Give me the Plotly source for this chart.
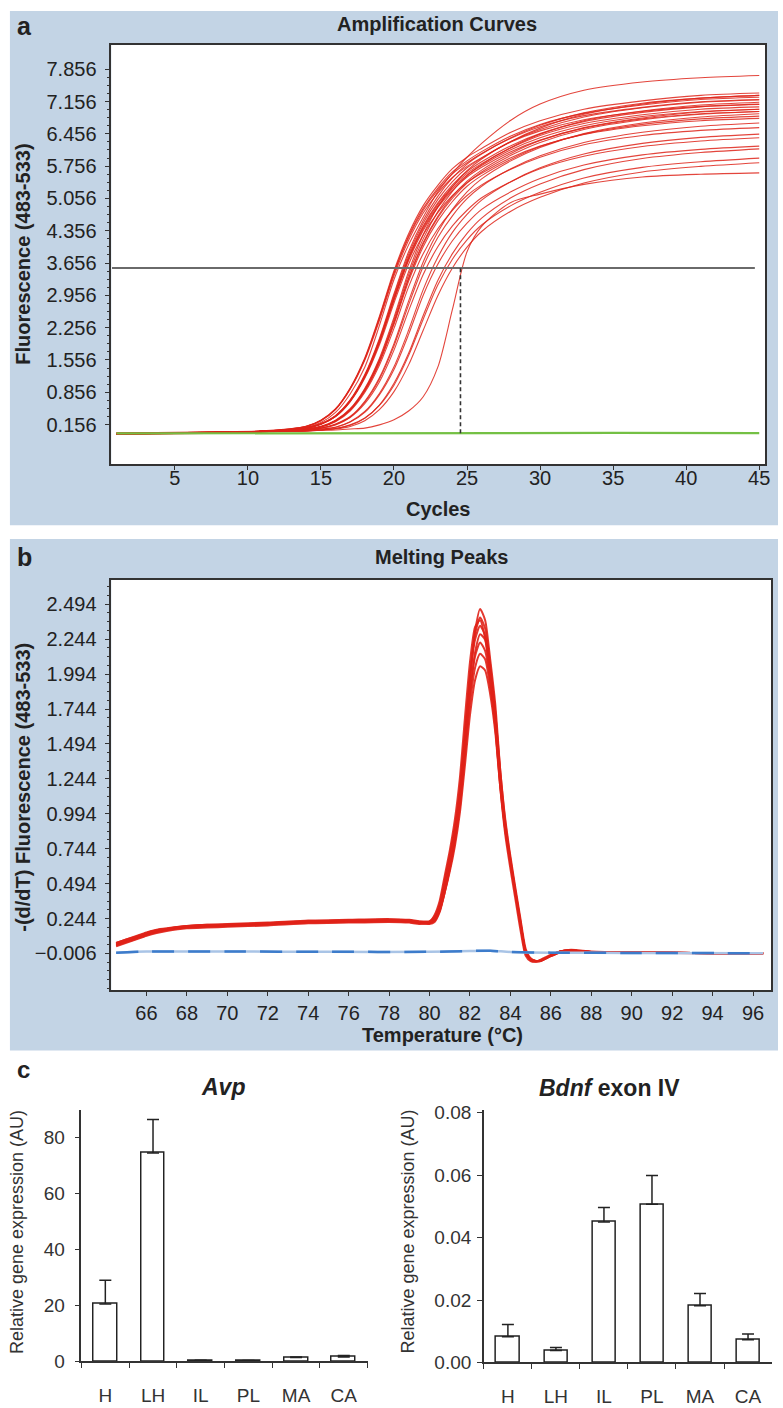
import plotly.graph_objects as go

# ---------------- data: panel a (amplification curves) ----------------
amp_cycles = [1, 11, 14, 15, 16, 17, 18, 19, 20, 21, 22, 23, 24, 25, 26, 28, 30, 33, 37, 41, 45]
amp_curves = [
    [-0.04, 0.01, 0.10, 0.20, 0.42, 0.82, 1.40, 2.30, 3.30, 4.05, 4.65, 5.20, 5.60, 5.95, 6.25, 6.75, 7.10, 7.40, 7.58, 7.67, 7.72],
    [-0.04, 0.01, 0.12, 0.25, 0.50, 0.95, 1.60, 2.50, 3.49, 4.29, 4.90, 5.34, 5.70, 5.95, 6.14, 6.49, 6.74, 6.99, 7.17, 7.29, 7.34],
    [-0.05, 0.01, 0.09, 0.18, 0.35, 0.69, 1.24, 2.02, 2.99, 3.90, 4.58, 5.10, 5.50, 5.80, 6.02, 6.37, 6.64, 6.91, 7.12, 7.23, 7.29],
    [-0.03, 0.02, 0.12, 0.25, 0.49, 0.94, 1.58, 2.47, 3.45, 4.24, 4.84, 5.28, 5.63, 5.87, 6.07, 6.41, 6.66, 6.90, 7.08, 7.20, 7.25],
    [-0.04, 0.01, 0.09, 0.17, 0.35, 0.68, 1.22, 1.99, 2.95, 3.84, 4.52, 5.03, 5.42, 5.72, 5.93, 6.29, 6.55, 6.82, 7.02, 7.14, 7.19],
    [-0.04, 0.00, 0.06, 0.11, 0.24, 0.49, 0.92, 1.56, 2.43, 3.40, 4.18, 4.77, 5.21, 5.55, 5.79, 6.16, 6.45, 6.74, 6.95, 7.08, 7.14],
    [-0.05, 0.01, 0.11, 0.24, 0.48, 0.92, 1.55, 2.41, 3.38, 4.15, 4.74, 5.17, 5.51, 5.75, 5.94, 6.28, 6.52, 6.76, 6.94, 7.05, 7.10],
    [-0.04, 0.01, 0.08, 0.17, 0.34, 0.67, 1.20, 1.95, 2.89, 3.76, 4.43, 4.93, 5.31, 5.60, 5.81, 6.15, 6.42, 6.68, 6.87, 6.99, 7.04],
    [-0.03, 0.01, 0.06, 0.11, 0.24, 0.48, 0.90, 1.53, 2.38, 3.33, 4.10, 4.67, 5.10, 5.43, 5.67, 6.03, 6.31, 6.59, 6.80, 6.93, 6.99],
    [-0.04, 0.00, 0.08, 0.17, 0.33, 0.66, 1.18, 1.93, 2.85, 3.71, 4.36, 4.86, 5.23, 5.52, 5.73, 6.07, 6.32, 6.58, 6.78, 6.89, 6.94],
    [-0.04, 0.01, 0.05, 0.08, 0.17, 0.33, 0.66, 1.17, 1.91, 2.83, 3.68, 4.33, 4.82, 5.20, 5.48, 5.87, 6.16, 6.46, 6.69, 6.82, 6.89],
    [-0.05, 0.00, 0.06, 0.11, 0.23, 0.47, 0.88, 1.49, 2.33, 3.26, 4.01, 4.57, 4.99, 5.32, 5.55, 5.90, 6.18, 6.45, 6.66, 6.78, 6.84],
    [-0.04, 0.01, 0.08, 0.16, 0.33, 0.65, 1.16, 1.88, 2.79, 3.63, 4.27, 4.75, 5.12, 5.40, 5.60, 5.94, 6.19, 6.44, 6.63, 6.74, 6.79],
    [-0.04, 0.01, 0.05, 0.08, 0.16, 0.32, 0.64, 1.14, 1.86, 2.75, 3.58, 4.21, 4.68, 5.05, 5.32, 5.70, 5.98, 6.27, 6.49, 6.62, 6.69],
    [-0.04, 0.00, 0.06, 0.11, 0.22, 0.45, 0.85, 1.44, 2.24, 3.14, 3.86, 4.40, 4.80, 5.12, 5.35, 5.69, 5.95, 6.22, 6.42, 6.53, 6.59],
    [-0.04, 0.01, 0.03, 0.06, 0.10, 0.22, 0.44, 0.83, 1.41, 2.20, 3.08, 3.78, 4.32, 4.71, 5.02, 5.42, 5.72, 6.02, 6.25, 6.38, 6.45],
    [-0.03, 0.01, 0.04, 0.08, 0.15, 0.31, 0.61, 1.08, 1.77, 2.62, 3.41, 4.01, 4.46, 4.80, 5.07, 5.42, 5.70, 5.97, 6.18, 6.30, 6.37],
    [-0.04, 0.00, 0.03, 0.06, 0.10, 0.21, 0.42, 0.80, 1.35, 2.11, 2.96, 3.63, 4.14, 4.52, 4.82, 5.20, 5.49, 5.78, 6.00, 6.12, 6.19],
    [-0.04, 0.01, 0.02, 0.04, 0.07, 0.15, 0.30, 0.58, 1.05, 1.70, 2.52, 3.28, 3.86, 4.30, 4.63, 5.07, 5.37, 5.68, 5.92, 6.05, 6.13],
    [-0.04, 0.00, 0.02, 0.04, 0.07, 0.14, 0.29, 0.57, 1.01, 1.65, 2.44, 3.18, 3.74, 4.16, 4.48, 4.90, 5.19, 5.50, 5.73, 5.85, 5.93],
    [-0.04, 0.01, 0.02, 0.035, 0.06, 0.115, 0.24, 0.48, 0.87, 1.45, 2.20, 2.95, 3.55, 4.00, 4.34, 4.78, 5.08, 5.39, 5.63, 5.75, 5.83],
    [-0.04, 0.01, 0.02, 0.03, 0.04, 0.06, 0.08, 0.15, 0.26, 0.45, 0.76, 1.40, 2.65, 3.90, 4.45, 4.97, 5.15, 5.36, 5.52, 5.58, 5.61],
    [-0.04, 0.01, 0.12, 0.24, 0.49, 0.93, 1.57, 2.45, 3.43, 4.21, 4.80, 5.24, 5.59, 5.83, 6.03, 6.36, 6.61, 6.85, 7.03, 7.15, 7.20],
    [-0.05, 0.00, 0.09, 0.17, 0.34, 0.67, 1.21, 1.97, 2.91, 3.79, 4.46, 4.96, 5.35, 5.64, 5.85, 6.20, 6.46, 6.72, 6.92, 7.04, 7.09],
    [-0.04, 0.01, 0.08, 0.17, 0.34, 0.67, 1.19, 1.94, 2.87, 3.74, 4.40, 4.89, 5.27, 5.56, 5.77, 6.11, 6.37, 6.63, 6.83, 6.94, 6.99],
    [-0.04, 0.01, 0.07, 0.12, 0.25, 0.50, 0.94, 1.59, 2.48, 3.47, 4.27, 4.87, 5.31, 5.66, 5.91, 6.29, 6.58, 6.88, 7.10, 7.23, 7.29],
    [-0.03, 0.00, 0.06, 0.11, 0.24, 0.47, 0.90, 1.52, 2.36, 3.31, 4.07, 4.64, 5.06, 5.39, 5.63, 5.99, 6.27, 6.55, 6.76, 6.88, 6.94],
]
neg_cycles = [1, 10, 20, 30, 35, 45]
neg_values = [-0.035, -0.03, -0.03, -0.03, -0.025, -0.03]
threshold_value = 3.55
threshold_span = [0.7, 44.7]
ct_marker = 24.55
amp_ytick_text = ["0.156", "0.856", "1.556", "2.256", "2.956", "3.656", "4.356", "5.056", "5.756", "6.456", "7.156", "7.856"]
amp_xticks = [5, 10, 15, 20, 25, 30, 35, 40, 45]

# ---------------- data: panel b (melting peaks) ----------------
melt_temps = [64.5, 65, 65.5, 66, 66.5, 67, 68, 69, 70, 72, 74, 76, 78, 79, 79.5, 80, 80.25, 80.5, 80.75, 81,
              81.25, 81.5, 81.75, 82, 82.25, 82.5, 82.75, 83, 83.25, 83.5, 83.75, 84, 84.25, 84.5, 84.75, 85,
              85.25, 85.5, 86, 86.5, 87, 88, 90, 92, 94, 96.5]
melt_curves = [
    [0.05, 0.075, 0.10, 0.125, 0.145, 0.16, 0.18, 0.185, 0.19, 0.2, 0.215, 0.22, 0.225, 0.22, 0.21, 0.21, 0.23, 0.31, 0.46, 0.62,
     0.82, 1.08, 1.5, 1.95, 2.3, 2.46, 2.38, 2.1, 1.78, 1.3, 0.93, 0.67, 0.44, 0.22, 0.01, -0.05,
     -0.06, -0.055, -0.02, 0.01, 0.015, 0.005, 0.0, 0.0, -0.005, -0.005],
    [0.06, 0.085, 0.11, 0.135, 0.155, 0.17, 0.19, 0.195, 0.2, 0.21, 0.225, 0.23, 0.235, 0.23, 0.22, 0.22, 0.25, 0.33, 0.5, 0.68,
     0.88, 1.15, 1.56, 1.98, 2.28, 2.40, 2.32, 2.06, 1.72, 1.26, 0.9, 0.65, 0.42, 0.2, 0.0, -0.055,
     -0.065, -0.06, -0.025, 0.005, 0.015, 0.005, 0.0, -0.002, -0.005, -0.006],
    [0.07, 0.095, 0.12, 0.145, 0.165, 0.175, 0.19, 0.2, 0.205, 0.215, 0.23, 0.235, 0.24, 0.235, 0.225, 0.225, 0.26, 0.35, 0.52, 0.7,
     0.9, 1.18, 1.58, 1.98, 2.24, 2.34, 2.27, 2.02, 1.7, 1.25, 0.9, 0.66, 0.43, 0.21, 0.01, -0.05,
     -0.06, -0.055, -0.02, 0.01, 0.02, 0.008, 0.002, 0.0, -0.004, -0.005],
    [0.055, 0.08, 0.105, 0.13, 0.15, 0.165, 0.185, 0.19, 0.195, 0.205, 0.22, 0.225, 0.23, 0.225, 0.215, 0.205, 0.22, 0.29, 0.43, 0.6,
     0.8, 1.06, 1.45, 1.85, 2.15, 2.28, 2.24, 2.02, 1.72, 1.3, 0.95, 0.69, 0.46, 0.24, 0.03, -0.04,
     -0.06, -0.06, -0.025, 0.005, 0.015, 0.005, 0.0, 0.0, -0.005, -0.006],
    [0.065, 0.09, 0.115, 0.14, 0.16, 0.17, 0.185, 0.195, 0.2, 0.21, 0.225, 0.23, 0.235, 0.23, 0.22, 0.215, 0.24, 0.32, 0.47, 0.64,
     0.84, 1.1, 1.48, 1.86, 2.12, 2.22, 2.16, 1.95, 1.65, 1.22, 0.88, 0.64, 0.42, 0.2, 0.0, -0.05,
     -0.06, -0.055, -0.02, 0.01, 0.015, 0.005, 0.0, 0.0, -0.005, -0.005],
    [0.06, 0.085, 0.11, 0.13, 0.15, 0.165, 0.18, 0.19, 0.195, 0.205, 0.215, 0.22, 0.225, 0.22, 0.21, 0.21, 0.23, 0.3, 0.44, 0.6,
     0.79, 1.04, 1.4, 1.78, 2.04, 2.14, 2.1, 1.9, 1.62, 1.2, 0.88, 0.65, 0.43, 0.21, 0.01, -0.045,
     -0.06, -0.055, -0.02, 0.01, 0.015, 0.005, 0.0, 0.0, -0.005, -0.005],
    [0.07, 0.095, 0.115, 0.14, 0.16, 0.17, 0.19, 0.2, 0.2, 0.21, 0.225, 0.23, 0.235, 0.23, 0.22, 0.215, 0.235, 0.3, 0.43, 0.58,
     0.76, 1.0, 1.34, 1.7, 1.95, 2.05, 2.02, 1.85, 1.58, 1.18, 0.87, 0.64, 0.42, 0.2, 0.0, -0.05,
     -0.06, -0.055, -0.02, 0.01, 0.015, 0.005, 0.0, 0.0, -0.005, -0.005],
    [0.045, 0.07, 0.095, 0.12, 0.14, 0.155, 0.175, 0.18, 0.185, 0.195, 0.21, 0.215, 0.22, 0.215, 0.205, 0.22, 0.27, 0.37, 0.55, 0.73,
     0.95, 1.25, 1.68, 2.08, 2.33, 2.38, 2.25, 1.96, 1.62, 1.18, 0.84, 0.6, 0.38, 0.16, -0.02, -0.06,
     -0.065, -0.05, -0.015, 0.01, 0.015, 0.005, 0.0, 0.0, -0.005, -0.005],
]
blank_temps = [64.5, 66, 70, 75, 80, 82, 83, 84, 86, 90, 96.5]
blank_values = [0.0, 0.008, 0.008, 0.006, 0.006, 0.012, 0.014, 0.005, 0.0, -0.002, -0.004]
melt_ytick_text = ["\u22120.006", "0.244", "0.494", "0.744", "0.994", "1.244", "1.494", "1.744", "1.994", "2.244", "2.494"]
melt_xticks = [66, 68, 70, 72, 74, 76, 78, 80, 82, 84, 86, 88, 90, 92, 94, 96]

# ---------------- data: panel c (bar charts) ----------------
regions = ["H", "LH", "IL", "PL", "MA", "CA"]
avp_mean = [20.5, 74.5, 0.3, 0.2, 1.4, 1.6]
avp_err = [8.5, 12.0, 0.1, 0.1, 0.2, 0.5]
avp_yticks = [0, 20, 40, 60, 80]
bdnf_mean = [0.0082, 0.0038, 0.0450, 0.0507, 0.0182, 0.0073]
bdnf_err = [0.0040, 0.0010, 0.0047, 0.0092, 0.0039, 0.0018]
bdnf_yticks = [0.00, 0.02, 0.04, 0.06, 0.08]

# ---------------- styling / layout helpers ----------------
W, H = 783, 1408
FONT = "Liberation Sans, Arial, Helvetica, sans-serif"
AX = "#333333"
TXT = "#222222"
BG_BLUE = "#c3d4e5"
RED = "rgba(222,36,26,0.85)"


def fx(p):
    return p / W


def fy(p):
    return 1 - p / H


fig = go.Figure()

# panel a traces
for curve in amp_curves:
    fig.add_trace(go.Scatter(x=amp_cycles, y=curve, mode="lines", xaxis="x", yaxis="y",
                             line=dict(color=RED, width=1.1, shape="spline", smoothing=0.8),
                             hoverinfo="skip", showlegend=False))
fig.add_trace(go.Scatter(x=neg_cycles, y=neg_values, mode="lines", xaxis="x", yaxis="y",
                         line=dict(color="#74c044", width=2.2), hoverinfo="skip", showlegend=False))
fig.add_trace(go.Scatter(x=threshold_span, y=[threshold_value, threshold_value], mode="lines",
                         xaxis="x", yaxis="y", line=dict(color="#6a6a6a", width=2),
                         hoverinfo="skip", showlegend=False))
fig.add_trace(go.Scatter(x=[ct_marker, ct_marker], y=[neg_values[-1], threshold_value], mode="lines",
                         xaxis="x", yaxis="y", line=dict(color="#333333", width=1.6, dash="4px,3px"),
                         hoverinfo="skip", showlegend=False))

# panel b traces
for curve in melt_curves:
    fig.add_trace(go.Scatter(x=melt_temps, y=curve, mode="lines", xaxis="x2", yaxis="y2",
                             line=dict(color="rgba(224,34,24,0.9)", width=2, shape="spline", smoothing=0.6),
                             hoverinfo="skip", showlegend=False))
fig.add_trace(go.Scatter(x=blank_temps, y=blank_values, mode="lines", xaxis="x2", yaxis="y2",
                         line=dict(color="#a9c4e6", width=2.5, shape="spline", smoothing=0.6),
                         hoverinfo="skip", showlegend=False))
fig.add_trace(go.Scatter(x=blank_temps, y=blank_values, mode="lines", xaxis="x2", yaxis="y2",
                         line=dict(color="#3d7ccb", width=2.5, dash="22px,14px", shape="spline", smoothing=0.6),
                         hoverinfo="skip", showlegend=False))

# panel c traces
bar_style = dict(color="white", line=dict(color="#222222", width=1.5))
fig.add_trace(go.Bar(x=regions, y=avp_mean, xaxis="x3", yaxis="y3", width=0.5, marker=bar_style,
                     error_y=dict(type="data", symmetric=False, array=avp_err, arrayminus=[0] * 6,
                                  color="#222222", thickness=1.5, width=6),
                     hoverinfo="skip", showlegend=False))
fig.add_trace(go.Bar(x=regions, y=bdnf_mean, xaxis="x4", yaxis="y4", width=0.48, marker=bar_style,
                     error_y=dict(type="data", symmetric=False, array=bdnf_err, arrayminus=[0] * 6,
                                  color="#222222", thickness=1.5, width=6),
                     hoverinfo="skip", showlegend=False))

common_ax = dict(showline=True, linecolor=AX, linewidth=1.5, showgrid=False, zeroline=False,
                 ticks="outside", tickcolor=AX, tickwidth=1.2)
tick_ab = dict(size=20, color=TXT, family=FONT)
tick_c = dict(size=19, color="#333333", family=FONT)

amp_yvals = [float(t) for t in amp_ytick_text]
melt_yvals = [float(t.replace("\u2212", "-")) for t in melt_ytick_text]
# minor ticks of panel a: three between each pair of labelled ticks
amp_minor = [v + k * 0.175 for v in amp_yvals[:-1] for k in (1, 2, 3)]

fig.update_layout(
    width=W, height=H, autosize=False,
    margin=dict(l=0, r=0, t=0, b=0),
    paper_bgcolor="white", plot_bgcolor="white",
    font=dict(family=FONT, color=TXT),
    bargap=0,
    xaxis=dict(domain=[fx(112), fx(770)], range=[0.65, 45.4], anchor="y", mirror=True,
               tickvals=amp_xticks, ticklen=4, tickfont=tick_ab, ticklabelstandoff=-9, **common_ax),
    yaxis=dict(domain=[fy(463), fy(38)], range=[-0.6996, 8.3913], anchor="x", mirror=True,
               tickvals=amp_yvals, ticktext=amp_ytick_text, ticklen=5, tickfont=tick_ab,
               ticklabelstandoff=4,
               minor=dict(tickmode="array", tickvals=amp_minor, ticks="outside", ticklen=3,
                          tickcolor=AX, tickwidth=1),
               **common_ax),
    xaxis2=dict(domain=[fx(112), fx(776)], range=[64.26, 96.89], anchor="y2", mirror=True,
                tickvals=melt_xticks, ticklen=4, tickfont=tick_ab, ticklabelstandoff=0, **common_ax),
    yaxis2=dict(domain=[fy(996), fy(580)], range=[-0.2693, 2.6707], anchor="x2", mirror=True,
                tickvals=melt_yvals, ticktext=melt_ytick_text, ticklen=5, tickfont=tick_ab,
                ticklabelstandoff=4,
                minor=dict(dtick=0.0625, tick0=-0.006, ticks="outside", ticklen=3, tickcolor=AX, tickwidth=1),
                **common_ax),
    xaxis3=dict(domain=[fx(82), fx(370)], range=[-0.5, 5.5], anchor="y3", type="category",
                tickson="boundaries", ticklen=5, tickfont=tick_c, ticklabelstandoff=16, **common_ax),
    yaxis3=dict(domain=[fy(1372), fy(1117)], range=[0, 90], anchor="x3",
                tickvals=avp_yticks, ticklen=5, tickfont=tick_c, ticklabelstandoff=6, **common_ax),
    xaxis4=dict(domain=[fx(487), fx(777)], range=[-0.5, 5.5], anchor="y4", type="category",
                tickson="boundaries", ticklen=5, tickfont=tick_c, ticklabelstandoff=16, **common_ax),
    yaxis4=dict(domain=[fy(1373), fy(1117)], range=[0, 0.081], anchor="x4",
                tickvals=bdnf_yticks, tickformat=".2f", ticklen=5, tickfont=tick_c, ticklabelstandoff=2,
                **common_ax),
)

# background panels
shapes = [
    dict(type="rect", xref="paper", yref="paper", x0=fx(10), x1=1, y0=fy(525), y1=fy(4),
         fillcolor=BG_BLUE, line=dict(width=0), layer="below"),
    dict(type="rect", xref="paper", yref="paper", x0=fx(10), x1=1, y0=fy(1057), y1=fy(539),
         fillcolor=BG_BLUE, line=dict(width=0), layer="below"),
    dict(type="rect", xref="paper", yref="paper", x0=fx(112), x1=fx(770), y0=fy(463), y1=fy(38),
         fillcolor="white", line=dict(width=0), layer="below"),
    dict(type="rect", xref="paper", yref="paper", x0=fx(112), x1=fx(776), y0=fy(996), y1=fy(580),
         fillcolor="white", line=dict(width=0), layer="below"),
]
fig.update_layout(shapes=shapes)


def ann(text, x, y, size, angle=0, color=TXT, xanchor="center"):
    return dict(text=text, x=fx(x), y=fy(y), xref="paper", yref="paper", showarrow=False,
                xanchor=xanchor, yanchor="middle", textangle=angle,
                font=dict(size=size, color=color, family=FONT))


annotations = [
    ann("<b>a</b>", 25, 19, 25),
    ann("<b>Amplification Curves</b>", 440, 17, 20),
    ann("<b>Fluorescence (483-533)</b>", 23, 250, 20, angle=-90),
    ann("<b>Cycles</b>", 441, 508, 20),
    ann("<b>b</b>", 25, 557, 25),
    ann("<b>Melting Peaks</b>", 444, 557, 20),
    ann("<b>-(d/dT) Fluorescence (483-533)</b>", 23, 790, 20, angle=-90),
    ann("<b>Temperature (°C)</b>", 445, 1041, 20),
    ann("<b>c</b>", 24, 1076, 24),
    ann("<b><i>Avp</i></b>", 224, 1094, 23),
    ann("<b><i>Bdnf</i> exon IV</b>", 613, 1095, 23),
    ann("Relative gene expression (AU)", 17, 1241, 18, angle=-90, color="#333333"),
    ann("Relative gene expression (AU)", 411, 1240, 18, angle=-90, color="#333333"),
]
fig.update_layout(annotations=annotations)

fig.write_html("out.html", config={"displayModeBar": False},
               post_script="document.body.style.margin='0';document.body.style.overflow='hidden';")
